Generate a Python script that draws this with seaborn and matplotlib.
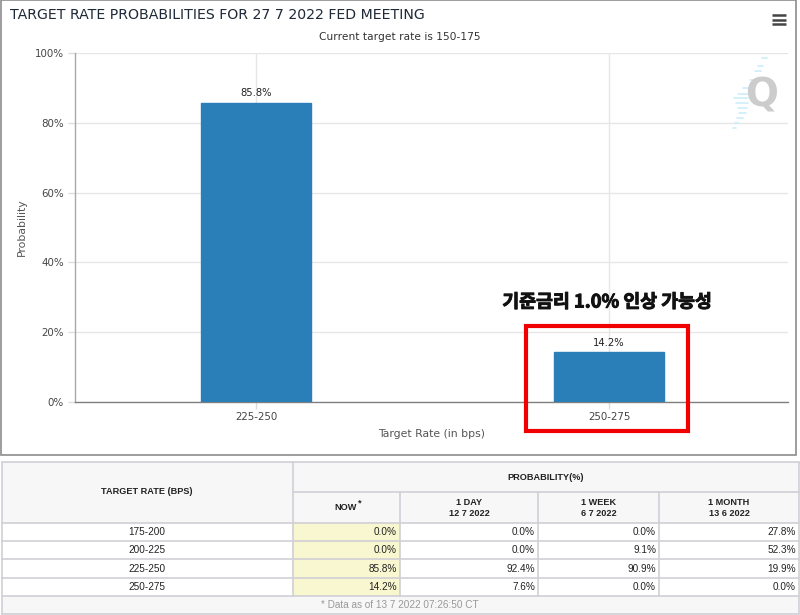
#!/usr/bin/env python3
import matplotlib
matplotlib.use('Agg')
import matplotlib.pyplot as plt
import matplotlib.patheffects as pe
import pandas as pd
import seaborn as sns
from matplotlib.patches import Rectangle

# Chart data
rates = ['225-250', '250-275']
probs = [85.8, 14.2]
yticks = [0, 20, 40, 60, 80, 100]

# Table data
table_rates = ['175-200', '200-225', '225-250', '250-275']
now_vals = ['0.0%', '0.0%', '85.8%', '14.2%']
day_vals = ['0.0%', '0.0%', '92.4%', '7.6%']
week_vals = ['0.0%', '9.1%', '90.9%', '0.0%']
month_vals = ['27.8%', '52.3%', '19.9%', '0.0%']
col_heads = ['1 DAY\n12 7 2022', '1 WEEK\n6 7 2022', '1 MONTH\n13 6 2022']

# Table layout, in pixels
col_x = [2, 293, 400, 538, 659, 799]
row_y = [523, 541, 559, 578, 596]

W, H = 800, 615
BAR = '#2a7fb8'
LINE = '#cfcfd6'
TABLE_FONT = 'Liberation Sans'

sns.set_theme(style='white')
plt.rcParams['font.family'] = ['DejaVu Sans']

fig = plt.figure(figsize=(W / 100, H / 100), dpi=100, facecolor='white')

# Main chart axes
ax = fig.add_axes([75 / W, 1 - 402 / H, (788 - 75) / W, (402 - 53) / H])
df = pd.DataFrame({'rate': rates, 'prob': probs})
sns.barplot(data=df, x='rate', y='prob', color=BAR, saturation=1, width=0.312, ax=ax, zorder=3,
            edgecolor=BAR, linewidth=1)
ax.set_xlim(-0.513, 1.507)
ax.set_ylim(0, 100)
ax.set_yticks(yticks)
ax.set_yticklabels([f'{t}%' for t in yticks], fontsize=7.4, color='#444444')
ax.set_xticks(range(len(rates)))
ax.set_xticklabels(rates, fontsize=7.4, color='#444444')
ax.grid(True, color='#e6e6e6', linewidth=1)
ax.set_axisbelow(True)
ax.tick_params(axis='y', length=5, width=1, color='#dcdcdc', pad=3, left=True)
ax.tick_params(axis='x', length=5, width=1, color='#dcdcdc', pad=2, bottom=True)
ax.set_xlabel('Target Rate (in bps)', fontsize=7.8, color='#555555', labelpad=5)
ax.set_ylabel('Probability', fontsize=7.8, color='#555555', labelpad=6)
sns.despine(ax=ax, top=True, right=True)
ax.spines['left'].set_color('#a8a8a8')
ax.spines['bottom'].set_color('#808080')
for spine in ['left', 'bottom']:
    ax.spines[spine].set_linewidth(1)
for i, p in enumerate(probs):
    ax.annotate(f'{p}%', (i, p), xytext=(0, 3), textcoords='offset points', ha='center', va='bottom',
                fontsize=7.2, color='#222222', zorder=5)

# Overlay in pixel coordinates for title, frame, annotation and table
pix = fig.add_axes([0, 0, 1, 1], facecolor='none')
pix.set_xlim(0, W)
pix.set_ylim(H, 0)
pix.axis('off')

pix.add_patch(Rectangle((1, 0), 795, 455, fill=False, edgecolor='#8c8c8c', linewidth=1.2))
pix.text(10, 15, 'TARGET RATE PROBABILITIES FOR 27 7 2022 FED MEETING', fontsize=10.2, color='#1f2a38',
         ha='left', va='center')
pix.text(400, 37, 'Current target rate is 150-175', fontsize=7.7, color='#333333', ha='center', va='center')

# Menu icon
for y in [15, 19.5, 24]:
    pix.plot([772, 786], [y, y], color='#444444', linewidth=1.8, solid_capstyle='butt')

# Watermark
pix.text(762, 96, 'Q', fontsize=28, fontweight='bold', color='#cccccc', ha='center', va='center')
for x0, x1, y in [(762, 767, 60), (758, 763, 68), (755, 761, 73), (750, 756, 82), (743, 750, 90), (738, 748, 96),
                  (734, 748, 100), (736, 748, 105), (738, 747, 110), (739, 746, 115), (737, 743, 120),
                  (735, 739, 125), (733, 736, 130)]:
    pix.plot([x0, x1], [y - 2, y - 2], color='#cdeefb', linewidth=1.2)

# Highlight box and Korean note
pix.add_patch(Rectangle((525.5, 325.5), 162.5, 105.5, fill=False, edgecolor='#f00000', linewidth=3))
note = pix.text(607, 302, '기준금리 1.0% 인상 가능성', fontsize=13.2, fontweight='black', color='#111111', ha='center',
                va='center', family=['Noto Sans CJK KR', 'DejaVu Sans'])
note.set_path_effects([pe.withStroke(linewidth=0.7, foreground='#111111')])

# Table backgrounds
pix.add_patch(Rectangle((col_x[0], 462), col_x[-1] - col_x[0], row_y[0] - 462, facecolor='#f7f7f7', edgecolor='none'))
pix.add_patch(Rectangle((col_x[0], row_y[-1]), col_x[-1] - col_x[0], 614 - row_y[-1], facecolor='#f7f7f7',
                        edgecolor='none'))
pix.add_patch(Rectangle((col_x[1], row_y[0]), col_x[2] - col_x[1], row_y[-1] - row_y[0], facecolor='#f9f7cf',
                        edgecolor='none'))

# Table rules
for y in [462, *row_y, 614]:
    pix.plot([col_x[0], col_x[-1]], [y, y], color=LINE, linewidth=1.2)
pix.plot([col_x[1], col_x[-1]], [492, 492], color=LINE, linewidth=1.2)
pix.plot([col_x[0], col_x[0]], [462, 614], color=LINE, linewidth=1.2)
pix.plot([col_x[-1], col_x[-1]], [462, 614], color=LINE, linewidth=1.2)
pix.plot([col_x[1], col_x[1]], [462, row_y[-1]], color=LINE, linewidth=1.2)
for x in col_x[2:5]:
    pix.plot([x, x], [492, row_y[-1]], color=LINE, linewidth=1.2)

# Table header
tkw = dict(family=TABLE_FONT, color='#222222')
pix.text(147, 492, 'TARGET RATE (BPS)', fontsize=6.6, fontweight='bold', ha='center', va='center', **tkw)
pix.text(546, 477, 'PROBABILITY(%)', fontsize=6.6, fontweight='bold', ha='center', va='center', **tkw)
pix.text(346, 508, 'NOW', fontsize=6.6, fontweight='bold', ha='center', va='center', **tkw)
pix.text(360, 503, '*', fontsize=6.6, fontweight='bold', ha='center', va='center', **tkw)
for i, head in enumerate(col_heads):
    pix.text((col_x[i + 2] + col_x[i + 3]) / 2, 508, head, fontsize=6.6, fontweight='bold', ha='center', va='center',
             linespacing=1.25, **tkw)

# Table body
for r, rate in enumerate(table_rates):
    yc = (row_y[r] + row_y[r + 1]) / 2
    pix.text(147, yc, rate, fontsize=7.2, ha='center', va='center', **tkw)
    for c, vals in enumerate([now_vals, day_vals, week_vals, month_vals]):
        pix.text(col_x[c + 2] - 3, yc, vals[r], fontsize=7.2, ha='right', va='center', **tkw)

pix.text(400, 605, '* Data as of 13 7 2022 07:26:50 CT', fontsize=7.2, color='#999999', family=TABLE_FONT,
         ha='center', va='center')

fig.savefig('out.png', dpi=100)
